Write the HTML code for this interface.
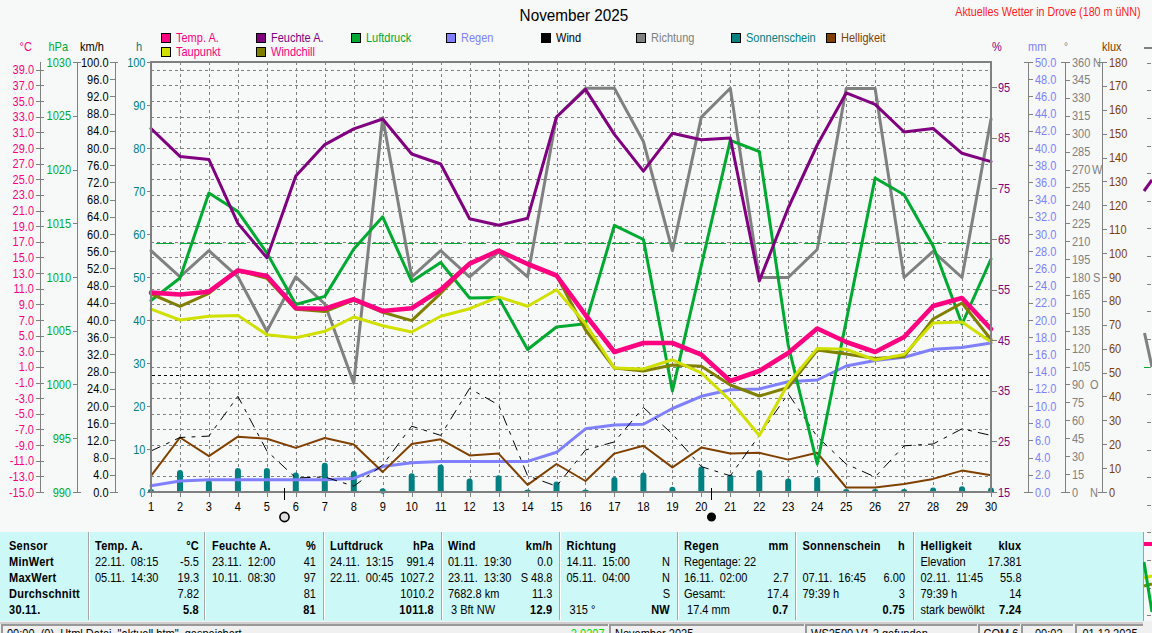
<!DOCTYPE html><html><head><meta charset="utf-8"><style>html,body{margin:0;padding:0;background:#f7f9f9;width:1152px;height:633px;overflow:hidden}svg{display:block}text{font-family:'Liberation Sans', sans-serif}</style></head><body>
<svg width="1152" height="633" viewBox="0 0 1152 633">
<rect x="0" y="0" width="1152" height="633" fill="#f7f9f9"/>
<text transform="translate(574,20.5) scale(0.9,1)" font-size="17" text-anchor="middle" fill="#000">November 2025</text>
<text transform="translate(1140.5,15.8) scale(0.88,1)" font-size="12.2" text-anchor="end" fill="#ff2020">Aktuelles Wetter in Drove (180 m üNN)</text>
<rect x="161.5" y="33.5" width="9" height="9" fill="#ff0080" stroke="#000" stroke-width="1"/>
<text transform="translate(176.0,42.0) scale(0.887,1)" font-size="12.4" fill="#ff0080">Temp. A.</text>
<rect x="161.5" y="47.5" width="9" height="9" fill="#d0e000" stroke="#000" stroke-width="1"/>
<text transform="translate(176.0,56.0) scale(0.887,1)" font-size="12.4" fill="#ff0080">Taupunkt</text>
<rect x="256.5" y="33.5" width="9" height="9" fill="#800080" stroke="#000" stroke-width="1"/>
<text transform="translate(271.0,42.0) scale(0.887,1)" font-size="12.4" fill="#800080">Feuchte A.</text>
<rect x="256.5" y="47.5" width="9" height="9" fill="#808000" stroke="#000" stroke-width="1"/>
<text transform="translate(271.0,56.0) scale(0.887,1)" font-size="12.4" fill="#ff0080">Windchill</text>
<rect x="351.5" y="33.5" width="9" height="9" fill="#00aa30" stroke="#000" stroke-width="1"/>
<text transform="translate(366.0,42.0) scale(0.887,1)" font-size="12.4" fill="#00aa30">Luftdruck</text>
<rect x="446.5" y="33.5" width="9" height="9" fill="#8080ff" stroke="#000" stroke-width="1"/>
<text transform="translate(461.0,42.0) scale(0.887,1)" font-size="12.4" fill="#8080ff">Regen</text>
<rect x="541.5" y="33.5" width="9" height="9" fill="#000000" stroke="#000" stroke-width="1"/>
<text transform="translate(556.0,42.0) scale(0.887,1)" font-size="12.4" fill="#000000">Wind</text>
<rect x="636.5" y="33.5" width="9" height="9" fill="#808080" stroke="#000" stroke-width="1"/>
<text transform="translate(651.0,42.0) scale(0.887,1)" font-size="12.4" fill="#808080">Richtung</text>
<rect x="731.5" y="33.5" width="9" height="9" fill="#008080" stroke="#000" stroke-width="1"/>
<text transform="translate(746.0,42.0) scale(0.887,1)" font-size="12.4" fill="#008080">Sonnenschein</text>
<rect x="826.5" y="33.5" width="9" height="9" fill="#804000" stroke="#000" stroke-width="1"/>
<text transform="translate(841.0,42.0) scale(0.887,1)" font-size="12.4" fill="#804000">Helligkeit</text>
<path d="M151,476.5H991M151,461.5H991M151,445.5H991M151,429.5H991M151,414.5H991M151,398.5H991M151,383.5H991M151,367.5H991M151,351.5H991M151,336.5H991M151,320.5H991M151,304.5H991M151,289.5H991M151,273.5H991M151,257.5H991M151,242.5H991M151,226.5H991M151,211.5H991M151,195.5H991M151,179.5H991M151,164.5H991M151,148.5H991M151,132.5H991M151,117.5H991M151,101.5H991M151,85.5H991M151,70.5H991" stroke="#808080" stroke-width="1" stroke-dasharray="3,3" fill="none"/>
<path d="M180.5,62V492M209.5,62V492M238.5,62V492M267.5,62V492M296.5,62V492M325.5,62V492M354.5,62V492M383.5,62V492M412.5,62V492M441.5,62V492M470.5,62V492M499.5,62V492M528.5,62V492M557.5,62V492M585.5,62V492M614.5,62V492M643.5,62V492M672.5,62V492M701.5,62V492M730.5,62V492M759.5,62V492M788.5,62V492M817.5,62V492M846.5,62V492M875.5,62V492M904.5,62V492M933.5,62V492M962.5,62V492" stroke="#808080" stroke-width="1" stroke-dasharray="3,3" fill="none"/>
<path d="M152,375.5H991" stroke="#000" stroke-width="1.2" stroke-dasharray="3,3" fill="none"/>
<path d="M152,243.5H991" stroke="#00aa30" stroke-width="1" stroke-dasharray="18,6" stroke-dashoffset="-4" fill="none"/>
<text transform="translate(151.0,511.0) scale(0.887,1)" font-size="12.4" text-anchor="middle" fill="#000">1</text>
<text transform="translate(180.0,511.0) scale(0.887,1)" font-size="12.4" text-anchor="middle" fill="#000">2</text>
<text transform="translate(208.9,511.0) scale(0.887,1)" font-size="12.4" text-anchor="middle" fill="#000">3</text>
<text transform="translate(237.9,511.0) scale(0.887,1)" font-size="12.4" text-anchor="middle" fill="#000">4</text>
<text transform="translate(266.9,511.0) scale(0.887,1)" font-size="12.4" text-anchor="middle" fill="#000">5</text>
<text transform="translate(295.8,511.0) scale(0.887,1)" font-size="12.4" text-anchor="middle" fill="#000">6</text>
<text transform="translate(324.8,511.0) scale(0.887,1)" font-size="12.4" text-anchor="middle" fill="#000">7</text>
<text transform="translate(353.8,511.0) scale(0.887,1)" font-size="12.4" text-anchor="middle" fill="#000">8</text>
<text transform="translate(382.7,511.0) scale(0.887,1)" font-size="12.4" text-anchor="middle" fill="#000">9</text>
<text transform="translate(411.7,511.0) scale(0.887,1)" font-size="12.4" text-anchor="middle" fill="#000">10</text>
<text transform="translate(440.7,511.0) scale(0.887,1)" font-size="12.4" text-anchor="middle" fill="#000">11</text>
<text transform="translate(469.6,511.0) scale(0.887,1)" font-size="12.4" text-anchor="middle" fill="#000">12</text>
<text transform="translate(498.6,511.0) scale(0.887,1)" font-size="12.4" text-anchor="middle" fill="#000">13</text>
<text transform="translate(527.6,511.0) scale(0.887,1)" font-size="12.4" text-anchor="middle" fill="#000">14</text>
<text transform="translate(556.5,511.0) scale(0.887,1)" font-size="12.4" text-anchor="middle" fill="#000">15</text>
<text transform="translate(585.5,511.0) scale(0.887,1)" font-size="12.4" text-anchor="middle" fill="#000">16</text>
<text transform="translate(614.4,511.0) scale(0.887,1)" font-size="12.4" text-anchor="middle" fill="#000">17</text>
<text transform="translate(643.4,511.0) scale(0.887,1)" font-size="12.4" text-anchor="middle" fill="#000">18</text>
<text transform="translate(672.4,511.0) scale(0.887,1)" font-size="12.4" text-anchor="middle" fill="#000">19</text>
<text transform="translate(701.3,511.0) scale(0.887,1)" font-size="12.4" text-anchor="middle" fill="#000">20</text>
<text transform="translate(730.3,511.0) scale(0.887,1)" font-size="12.4" text-anchor="middle" fill="#000">21</text>
<text transform="translate(759.3,511.0) scale(0.887,1)" font-size="12.4" text-anchor="middle" fill="#000">22</text>
<text transform="translate(788.2,511.0) scale(0.887,1)" font-size="12.4" text-anchor="middle" fill="#000">23</text>
<text transform="translate(817.2,511.0) scale(0.887,1)" font-size="12.4" text-anchor="middle" fill="#000">24</text>
<text transform="translate(846.2,511.0) scale(0.887,1)" font-size="12.4" text-anchor="middle" fill="#000">25</text>
<text transform="translate(875.1,511.0) scale(0.887,1)" font-size="12.4" text-anchor="middle" fill="#000">26</text>
<text transform="translate(904.1,511.0) scale(0.887,1)" font-size="12.4" text-anchor="middle" fill="#000">27</text>
<text transform="translate(933.1,511.0) scale(0.887,1)" font-size="12.4" text-anchor="middle" fill="#000">28</text>
<text transform="translate(962.0,511.0) scale(0.887,1)" font-size="12.4" text-anchor="middle" fill="#000">29</text>
<text transform="translate(991.0,511.0) scale(0.887,1)" font-size="12.4" text-anchor="middle" fill="#000">30</text>
<path d="M151.5,492V497M180.5,492V497M209.5,492V497M238.5,492V497M267.5,492V497M296.5,492V497M325.5,492V497M354.5,492V497M383.5,492V497M412.5,492V497M441.5,492V497M470.5,492V497M499.5,492V497M528.5,492V497M557.5,492V497M585.5,492V497M614.5,492V497M643.5,492V497M672.5,492V497M701.5,492V497M730.5,492V497M759.5,492V497M788.5,492V497M817.5,492V497M846.5,492V497M875.5,492V497M904.5,492V497M933.5,492V497M962.5,492V497M991.5,492V497" stroke="#808080" stroke-width="1" fill="none"/>
<ellipse cx="151.0" cy="491" rx="3" ry="2.0" fill="#008080"/>
<path d="M177.0,492V473.0a3,3 0 0 1 6,0V492Z" fill="#008080"/>
<path d="M205.9,492V483.0a3,3 0 0 1 6,0V492Z" fill="#008080"/>
<path d="M234.9,492V471.0a3,3 0 0 1 6,0V492Z" fill="#008080"/>
<path d="M263.9,492V471.0a3,3 0 0 1 6,0V492Z" fill="#008080"/>
<path d="M292.8,492V475.6a3,3 0 0 1 6,0V492Z" fill="#008080"/>
<path d="M321.8,492V465.7a3,3 0 0 1 6,0V492Z" fill="#008080"/>
<path d="M350.8,492V474.0a3,3 0 0 1 6,0V492Z" fill="#008080"/>
<ellipse cx="382.7" cy="491" rx="3" ry="2.7" fill="#008080"/>
<path d="M408.7,492V476.2a3,3 0 0 1 6,0V492Z" fill="#008080"/>
<path d="M437.7,492V467.6a3,3 0 0 1 6,0V492Z" fill="#008080"/>
<path d="M466.6,492V481.4a3,3 0 0 1 6,0V492Z" fill="#008080"/>
<path d="M495.6,492V478.2a3,3 0 0 1 6,0V492Z" fill="#008080"/>
<ellipse cx="527.6" cy="491" rx="3" ry="1.5" fill="#008080"/>
<path d="M553.5,492V484.5a3,3 0 0 1 6,0V492Z" fill="#008080"/>
<ellipse cx="585.5" cy="491" rx="3" ry="1.5" fill="#008080"/>
<path d="M611.4,492V480.0a3,3 0 0 1 6,0V492Z" fill="#008080"/>
<path d="M640.4,492V475.6a3,3 0 0 1 6,0V492Z" fill="#008080"/>
<path d="M669.4,492V489.7a3,3 0 0 1 6,0V492Z" fill="#008080"/>
<path d="M698.3,492V469.6a3,3 0 0 1 6,0V492Z" fill="#008080"/>
<path d="M727.3,492V477.5a3,3 0 0 1 6,0V492Z" fill="#008080"/>
<path d="M756.3,492V473.0a3,3 0 0 1 6,0V492Z" fill="#008080"/>
<path d="M785.2,492V481.4a3,3 0 0 1 6,0V492Z" fill="#008080"/>
<path d="M814.2,492V480.0a3,3 0 0 1 6,0V492Z" fill="#008080"/>
<ellipse cx="846.2" cy="491" rx="3" ry="2.0" fill="#008080"/>
<ellipse cx="875.1" cy="491" rx="3" ry="2.0" fill="#008080"/>
<ellipse cx="904.1" cy="491" rx="3" ry="2.0" fill="#008080"/>
<path d="M930.1,492V490.5a3,3 0 0 1 6,0V492Z" fill="#008080"/>
<path d="M959.0,492V489.2a3,3 0 0 1 6,0V492Z" fill="#008080"/>
<path d="M988.0,492V490.5a3,3 0 0 1 6,0V492Z" fill="#008080"/>
<polyline points="151.0,485.7 180.0,481.0 208.9,479.7 237.9,479.7 266.9,479.7 295.8,479.7 324.8,479.7 353.8,478.4 382.7,466.6 411.7,462.7 440.7,461.4 469.6,461.4 498.6,461.4 527.6,461.4 556.5,452.3 585.5,428.8 614.4,425.0 643.4,424.2 672.4,408.5 701.3,396.3 730.3,389.7 759.3,389.0 788.2,381.8 817.2,380.0 846.2,366.0 875.1,360.5 904.1,357.2 933.1,349.3 962.0,347.5 991.0,343.0" fill="none" stroke="#8080ff" stroke-width="3" stroke-linejoin="round" stroke-linecap="round" />
<polyline points="151.0,475.8 180.0,437.5 208.9,456.2 237.9,436.7 266.9,438.8 295.8,447.9 324.8,438.0 353.8,444.5 382.7,471.9 411.7,444.0 440.7,439.3 469.6,455.4 498.6,453.6 527.6,484.9 556.5,464.0 585.5,481.0 614.4,453.6 643.4,445.8 672.4,467.4 701.3,447.6 730.3,453.6 759.3,452.8 788.2,459.6 817.2,452.8 846.2,487.5 875.1,487.5 904.1,484.1 933.1,478.9 962.0,470.6 991.0,475.3" fill="none" stroke="#804000" stroke-width="2" stroke-linejoin="round" stroke-linecap="round" />
<polyline points="151.0,451.0 180.0,437.5 208.9,436.1 237.9,396.3 266.9,451.0 295.8,477.9 324.8,477.0 353.8,486.2 382.7,465.0 411.7,426.2 440.7,435.4 469.6,388.4 498.6,405.0 527.6,475.8 556.5,486.2 585.5,450.0 614.4,441.9 643.4,407.5 672.4,434.0 701.3,466.6 730.3,475.8 759.3,435.5 788.2,393.7 817.2,436.7 846.2,464.0 875.1,477.0 904.1,445.8 933.1,444.0 962.0,428.8 991.0,435.4" fill="none" stroke="#000" stroke-width="1" stroke-linejoin="round" stroke-linecap="round" stroke-dasharray="10,7,3,7"/>
<polyline points="151.0,250.7 180.0,276.8 208.9,250.7 237.9,276.8 266.9,331.3 295.8,276.8 324.8,304.0 353.8,383.2 382.7,117.8 411.7,276.8 440.7,250.7 469.6,276.8 498.6,251.9 527.6,276.8 556.5,117.0 585.5,88.2 614.4,88.2 643.4,141.5 672.4,250.7 701.3,117.1 730.3,88.2 759.3,277.5 788.2,277.5 817.2,249.5 846.2,88.5 875.1,88.5 904.1,277.5 933.1,251.4 962.0,277.5 991.0,119.0" fill="none" stroke="#808080" stroke-width="3" stroke-linejoin="round" stroke-linecap="round" />
<polyline points="151.0,300.5 180.0,278.0 208.9,193.0 237.9,211.6 266.9,253.0 295.8,304.5 324.8,296.4 353.8,249.0 382.7,216.8 411.7,281.5 440.7,262.5 469.6,298.0 498.6,297.4 527.6,349.5 556.5,327.0 585.5,323.7 614.4,225.3 643.4,239.5 672.4,391.0 701.3,265.6 730.3,140.3 759.3,151.5 788.2,345.0 817.2,464.0 846.2,321.0 875.1,178.0 904.1,194.8 933.1,246.0 962.0,324.0 991.0,259.0" fill="none" stroke="#00aa30" stroke-width="3" stroke-linejoin="round" stroke-linecap="round" />
<polyline points="151.0,128.5 180.0,156.4 208.9,159.5 237.9,223.4 266.9,257.8 295.8,175.9 324.8,144.6 353.8,128.9 382.7,119.0 411.7,154.0 440.7,164.0 469.6,218.7 498.6,225.3 527.6,218.2 556.5,117.0 585.5,89.4 614.4,134.4 643.4,171.1 672.4,133.2 701.3,139.8 730.3,138.0 759.3,281.0 788.2,208.0 817.2,145.0 846.2,92.9 875.1,104.3 904.1,132.0 933.1,128.5 962.0,153.3 991.0,161.6" fill="none" stroke="#800080" stroke-width="3" stroke-linejoin="round" stroke-linecap="round" />
<polyline points="151.0,294.0 180.0,306.4 208.9,293.3 237.9,270.4 266.9,278.4 295.8,309.2 324.8,311.6 353.8,300.0 382.7,312.3 411.7,320.6 440.7,293.3 469.6,263.7 498.6,250.7 527.6,264.0 556.5,275.5 585.5,330.0 614.4,368.0 643.4,371.0 672.4,365.0 701.3,366.3 730.3,385.0 759.3,396.0 788.2,387.5 817.2,350.0 846.2,354.0 875.1,358.5 904.1,356.4 933.1,319.0 962.0,303.0 991.0,339.5" fill="none" stroke="#808000" stroke-width="3" stroke-linejoin="round" stroke-linecap="round" />
<polyline points="151.0,309.2 180.0,320.0 208.9,316.3 237.9,315.4 266.9,334.8 295.8,337.7 324.8,331.3 353.8,317.0 382.7,325.8 411.7,332.0 440.7,316.3 469.6,308.7 498.6,296.9 527.6,306.3 556.5,289.8 585.5,323.7 614.4,368.0 643.4,368.9 672.4,359.8 701.3,372.8 730.3,400.5 759.3,435.5 788.2,383.5 817.2,348.6 846.2,349.3 875.1,360.0 904.1,354.5 933.1,323.0 962.0,322.0 991.0,342.0" fill="none" stroke="#d0e000" stroke-width="3" stroke-linejoin="round" stroke-linecap="round" />
<polyline points="151.0,292.6 180.0,294.5 208.9,291.7 237.9,270.4 266.9,276.0 295.8,308.3 324.8,308.7 353.8,299.3 382.7,311.0 411.7,308.3 440.7,289.8 469.6,263.7 498.6,250.7 527.6,264.0 556.5,275.5 585.5,315.0 614.4,352.0 643.4,343.0 672.4,343.0 701.3,354.6 730.3,381.0 759.3,371.0 788.2,353.0 817.2,328.5 846.2,342.0 875.1,352.0 904.1,337.0 933.1,306.0 962.0,298.0 991.0,329.0" fill="none" stroke="#ff0080" stroke-width="4.6" stroke-linejoin="round" stroke-linecap="round" />
<path d="M151,62H991V492H151Z" stroke="#808080" stroke-width="2" fill="none"/>
<path d="M284.5,488V500" stroke="#000" stroke-width="1"/>
<circle cx="284.5" cy="517" r="4.6" fill="#e0e0e0" stroke="#000" stroke-width="1.6"/>
<path d="M711.5,488V500" stroke="#000" stroke-width="1"/>
<circle cx="711.5" cy="517" r="3.9" fill="#000" stroke="#000" stroke-width="1.2"/>
<path d="M40.5,62V492" stroke="#808080" stroke-width="1"/>
<path d="M36,70.5H44M36,85.5H44M36,101.5H44M36,117.5H44M36,132.5H44M36,148.5H44M36,164.5H44M36,179.5H44M36,195.5H44M36,211.5H44M36,226.5H44M36,242.5H44M36,257.5H44M36,273.5H44M36,289.5H44M36,304.5H44M36,320.5H44M36,336.5H44M36,351.5H44M36,367.5H44M36,383.5H44M36,398.5H44M36,414.5H44M36,429.5H44M36,445.5H44M36,461.5H44M36,476.5H44M36,492.5H44" stroke="#808080" stroke-width="1"/>
<text transform="translate(34.0,74.3) scale(0.887,1)" font-size="12.4" text-anchor="end" fill="#ff0080">39.0</text>
<text transform="translate(34.0,90.0) scale(0.887,1)" font-size="12.4" text-anchor="end" fill="#ff0080">37.0</text>
<text transform="translate(34.0,105.6) scale(0.887,1)" font-size="12.4" text-anchor="end" fill="#ff0080">35.0</text>
<text transform="translate(34.0,121.2) scale(0.887,1)" font-size="12.4" text-anchor="end" fill="#ff0080">33.0</text>
<text transform="translate(34.0,136.9) scale(0.887,1)" font-size="12.4" text-anchor="end" fill="#ff0080">31.0</text>
<text transform="translate(34.0,152.5) scale(0.887,1)" font-size="12.4" text-anchor="end" fill="#ff0080">29.0</text>
<text transform="translate(34.0,168.1) scale(0.887,1)" font-size="12.4" text-anchor="end" fill="#ff0080">27.0</text>
<text transform="translate(34.0,183.8) scale(0.887,1)" font-size="12.4" text-anchor="end" fill="#ff0080">25.0</text>
<text transform="translate(34.0,199.4) scale(0.887,1)" font-size="12.4" text-anchor="end" fill="#ff0080">23.0</text>
<text transform="translate(34.0,215.0) scale(0.887,1)" font-size="12.4" text-anchor="end" fill="#ff0080">21.0</text>
<text transform="translate(34.0,230.7) scale(0.887,1)" font-size="12.4" text-anchor="end" fill="#ff0080">19.0</text>
<text transform="translate(34.0,246.3) scale(0.887,1)" font-size="12.4" text-anchor="end" fill="#ff0080">17.0</text>
<text transform="translate(34.0,262.0) scale(0.887,1)" font-size="12.4" text-anchor="end" fill="#ff0080">15.0</text>
<text transform="translate(34.0,277.6) scale(0.887,1)" font-size="12.4" text-anchor="end" fill="#ff0080">13.0</text>
<text transform="translate(34.0,293.2) scale(0.887,1)" font-size="12.4" text-anchor="end" fill="#ff0080">11.0</text>
<text transform="translate(34.0,308.9) scale(0.887,1)" font-size="12.4" text-anchor="end" fill="#ff0080">9.0</text>
<text transform="translate(34.0,324.5) scale(0.887,1)" font-size="12.4" text-anchor="end" fill="#ff0080">7.0</text>
<text transform="translate(34.0,340.1) scale(0.887,1)" font-size="12.4" text-anchor="end" fill="#ff0080">5.0</text>
<text transform="translate(34.0,355.8) scale(0.887,1)" font-size="12.4" text-anchor="end" fill="#ff0080">3.0</text>
<text transform="translate(34.0,371.4) scale(0.887,1)" font-size="12.4" text-anchor="end" fill="#ff0080">1.0</text>
<text transform="translate(34.0,387.0) scale(0.887,1)" font-size="12.4" text-anchor="end" fill="#ff0080">-1.0</text>
<text transform="translate(34.0,402.7) scale(0.887,1)" font-size="12.4" text-anchor="end" fill="#ff0080">-3.0</text>
<text transform="translate(34.0,418.3) scale(0.887,1)" font-size="12.4" text-anchor="end" fill="#ff0080">-5.0</text>
<text transform="translate(34.0,434.0) scale(0.887,1)" font-size="12.4" text-anchor="end" fill="#ff0080">-7.0</text>
<text transform="translate(34.0,449.6) scale(0.887,1)" font-size="12.4" text-anchor="end" fill="#ff0080">-9.0</text>
<text transform="translate(34.0,465.2) scale(0.887,1)" font-size="12.4" text-anchor="end" fill="#ff0080">-11.0</text>
<text transform="translate(34.0,480.9) scale(0.887,1)" font-size="12.4" text-anchor="end" fill="#ff0080">-13.0</text>
<text transform="translate(34.0,496.5) scale(0.887,1)" font-size="12.4" text-anchor="end" fill="#ff0080">-15.0</text>
<path d="M77.5,62V492" stroke="#808080" stroke-width="1"/>
<path d="M73,62.5H78M73,116.5H78M73,170.5H78M73,223.5H78M73,277.5H78M73,331.5H78M73,384.5H78M73,438.5H78M73,492.5H78M77,62.5H81M77,492.5H81" stroke="#808080" stroke-width="1"/>
<text transform="translate(71.0,66.5) scale(0.887,1)" font-size="12.4" text-anchor="end" fill="#00aa30">1030</text>
<text transform="translate(71.0,120.2) scale(0.887,1)" font-size="12.4" text-anchor="end" fill="#00aa30">1025</text>
<text transform="translate(71.0,174.0) scale(0.887,1)" font-size="12.4" text-anchor="end" fill="#00aa30">1020</text>
<text transform="translate(71.0,227.8) scale(0.887,1)" font-size="12.4" text-anchor="end" fill="#00aa30">1015</text>
<text transform="translate(71.0,281.5) scale(0.887,1)" font-size="12.4" text-anchor="end" fill="#00aa30">1010</text>
<text transform="translate(71.0,335.2) scale(0.887,1)" font-size="12.4" text-anchor="end" fill="#00aa30">1005</text>
<text transform="translate(71.0,389.0) scale(0.887,1)" font-size="12.4" text-anchor="end" fill="#00aa30">1000</text>
<text transform="translate(71.0,442.8) scale(0.887,1)" font-size="12.4" text-anchor="end" fill="#00aa30">995</text>
<text transform="translate(71.0,496.5) scale(0.887,1)" font-size="12.4" text-anchor="end" fill="#00aa30">990</text>
<path d="M115.5,62V492" stroke="#808080" stroke-width="1"/>
<path d="M110,62.5H115M110,79.5H115M110,96.5H115M110,114.5H115M110,131.5H115M110,148.5H115M110,165.5H115M110,182.5H115M110,200.5H115M110,217.5H115M110,234.5H115M110,251.5H115M110,268.5H115M110,286.5H115M110,303.5H115M110,320.5H115M110,337.5H115M110,354.5H115M110,372.5H115M110,389.5H115M110,406.5H115M110,423.5H115M110,440.5H115M110,458.5H115M110,475.5H115M110,492.5H115M115,62.5H118M115,492.5H118" stroke="#808080" stroke-width="1"/>
<text transform="translate(108.5,66.5) scale(0.887,1)" font-size="12.4" text-anchor="end" fill="#000">100.0</text>
<text transform="translate(108.5,83.7) scale(0.887,1)" font-size="12.4" text-anchor="end" fill="#000">96.0</text>
<text transform="translate(108.5,100.9) scale(0.887,1)" font-size="12.4" text-anchor="end" fill="#000">92.0</text>
<text transform="translate(108.5,118.1) scale(0.887,1)" font-size="12.4" text-anchor="end" fill="#000">88.0</text>
<text transform="translate(108.5,135.3) scale(0.887,1)" font-size="12.4" text-anchor="end" fill="#000">84.0</text>
<text transform="translate(108.5,152.5) scale(0.887,1)" font-size="12.4" text-anchor="end" fill="#000">80.0</text>
<text transform="translate(108.5,169.7) scale(0.887,1)" font-size="12.4" text-anchor="end" fill="#000">76.0</text>
<text transform="translate(108.5,186.9) scale(0.887,1)" font-size="12.4" text-anchor="end" fill="#000">72.0</text>
<text transform="translate(108.5,204.1) scale(0.887,1)" font-size="12.4" text-anchor="end" fill="#000">68.0</text>
<text transform="translate(108.5,221.3) scale(0.887,1)" font-size="12.4" text-anchor="end" fill="#000">64.0</text>
<text transform="translate(108.5,238.5) scale(0.887,1)" font-size="12.4" text-anchor="end" fill="#000">60.0</text>
<text transform="translate(108.5,255.7) scale(0.887,1)" font-size="12.4" text-anchor="end" fill="#000">56.0</text>
<text transform="translate(108.5,272.9) scale(0.887,1)" font-size="12.4" text-anchor="end" fill="#000">52.0</text>
<text transform="translate(108.5,290.1) scale(0.887,1)" font-size="12.4" text-anchor="end" fill="#000">48.0</text>
<text transform="translate(108.5,307.3) scale(0.887,1)" font-size="12.4" text-anchor="end" fill="#000">44.0</text>
<text transform="translate(108.5,324.5) scale(0.887,1)" font-size="12.4" text-anchor="end" fill="#000">40.0</text>
<text transform="translate(108.5,341.7) scale(0.887,1)" font-size="12.4" text-anchor="end" fill="#000">36.0</text>
<text transform="translate(108.5,358.9) scale(0.887,1)" font-size="12.4" text-anchor="end" fill="#000">32.0</text>
<text transform="translate(108.5,376.1) scale(0.887,1)" font-size="12.4" text-anchor="end" fill="#000">28.0</text>
<text transform="translate(108.5,393.3) scale(0.887,1)" font-size="12.4" text-anchor="end" fill="#000">24.0</text>
<text transform="translate(108.5,410.5) scale(0.887,1)" font-size="12.4" text-anchor="end" fill="#000">20.0</text>
<text transform="translate(108.5,427.7) scale(0.887,1)" font-size="12.4" text-anchor="end" fill="#000">16.0</text>
<text transform="translate(108.5,444.9) scale(0.887,1)" font-size="12.4" text-anchor="end" fill="#000">12.0</text>
<text transform="translate(108.5,462.1) scale(0.887,1)" font-size="12.4" text-anchor="end" fill="#000">8.0</text>
<text transform="translate(108.5,479.3) scale(0.887,1)" font-size="12.4" text-anchor="end" fill="#000">4.0</text>
<text transform="translate(108.5,496.5) scale(0.887,1)" font-size="12.4" text-anchor="end" fill="#000">0.0</text>
<path d="M147,62.5H151M147,105.5H151M147,148.5H151M147,191.5H151M147,234.5H151M147,277.5H151M147,320.5H151M147,363.5H151M147,406.5H151M147,449.5H151M147,492.5H151" stroke="#808080" stroke-width="1"/>
<text transform="translate(145.5,66.5) scale(0.887,1)" font-size="12.4" text-anchor="end" fill="#008080">100</text>
<text transform="translate(145.5,109.5) scale(0.887,1)" font-size="12.4" text-anchor="end" fill="#008080">90</text>
<text transform="translate(145.5,152.5) scale(0.887,1)" font-size="12.4" text-anchor="end" fill="#008080">80</text>
<text transform="translate(145.5,195.5) scale(0.887,1)" font-size="12.4" text-anchor="end" fill="#008080">70</text>
<text transform="translate(145.5,238.5) scale(0.887,1)" font-size="12.4" text-anchor="end" fill="#008080">60</text>
<text transform="translate(145.5,281.5) scale(0.887,1)" font-size="12.4" text-anchor="end" fill="#008080">50</text>
<text transform="translate(145.5,324.5) scale(0.887,1)" font-size="12.4" text-anchor="end" fill="#008080">40</text>
<text transform="translate(145.5,367.5) scale(0.887,1)" font-size="12.4" text-anchor="end" fill="#008080">30</text>
<text transform="translate(145.5,410.5) scale(0.887,1)" font-size="12.4" text-anchor="end" fill="#008080">20</text>
<text transform="translate(145.5,453.5) scale(0.887,1)" font-size="12.4" text-anchor="end" fill="#008080">10</text>
<text transform="translate(145.5,496.5) scale(0.887,1)" font-size="12.4" text-anchor="end" fill="#008080">0</text>
<text transform="translate(19.5,51.0) scale(0.887,1)" font-size="12.4" fill="#ff0080">°C</text>
<text transform="translate(48.5,51.0) scale(0.887,1)" font-size="12.4" fill="#00aa30">hPa</text>
<text transform="translate(80.0,51.0) scale(0.887,1)" font-size="12.4" fill="#000">km/h</text>
<text transform="translate(136.0,51.0) scale(0.887,1)" font-size="12.4" fill="#008080">h</text>
<text transform="translate(992.0,51.0) scale(0.887,1)" font-size="12.4" fill="#800080">%</text>
<text transform="translate(1028.0,51.0) scale(0.887,1)" font-size="12.4" fill="#8080ff">mm</text>
<text x="1064" y="49.5" font-size="10" fill="#808080">°</text>
<text transform="translate(1102.0,51.0) scale(0.887,1)" font-size="12.4" fill="#804000">klux</text>
<path d="M1144,48H1152" stroke="#808080" stroke-width="2"/>
<path d="M991,87.5H997M991,138.5H997M991,188.5H997M991,239.5H997M991,290.5H997M991,340.5H997M991,391.5H997M991,441.5H997M991,492.5H997" stroke="#808080" stroke-width="1"/>
<text transform="translate(998.0,91.8) scale(0.887,1)" font-size="12.4" text-anchor="start" fill="#800080">95</text>
<text transform="translate(998.0,142.4) scale(0.887,1)" font-size="12.4" text-anchor="start" fill="#800080">85</text>
<text transform="translate(998.0,193.0) scale(0.887,1)" font-size="12.4" text-anchor="start" fill="#800080">75</text>
<text transform="translate(998.0,243.6) scale(0.887,1)" font-size="12.4" text-anchor="start" fill="#800080">65</text>
<text transform="translate(998.0,294.1) scale(0.887,1)" font-size="12.4" text-anchor="start" fill="#800080">55</text>
<text transform="translate(998.0,344.7) scale(0.887,1)" font-size="12.4" text-anchor="start" fill="#800080">45</text>
<text transform="translate(998.0,395.3) scale(0.887,1)" font-size="12.4" text-anchor="start" fill="#800080">35</text>
<text transform="translate(998.0,445.9) scale(0.887,1)" font-size="12.4" text-anchor="start" fill="#800080">25</text>
<text transform="translate(998.0,496.5) scale(0.887,1)" font-size="12.4" text-anchor="start" fill="#800080">15</text>
<path d="M1028.5,62V492" stroke="#808080" stroke-width="1"/>
<path d="M1028,62.5H1033M1028,79.5H1033M1028,96.5H1033M1028,114.5H1033M1028,131.5H1033M1028,148.5H1033M1028,165.5H1033M1028,182.5H1033M1028,200.5H1033M1028,217.5H1033M1028,234.5H1033M1028,251.5H1033M1028,268.5H1033M1028,286.5H1033M1028,303.5H1033M1028,320.5H1033M1028,337.5H1033M1028,354.5H1033M1028,372.5H1033M1028,389.5H1033M1028,406.5H1033M1028,423.5H1033M1028,440.5H1033M1028,458.5H1033M1028,475.5H1033M1028,492.5H1033M1024,62.5H1029M1024,492.5H1029" stroke="#808080" stroke-width="1"/>
<text transform="translate(1035.0,66.5) scale(0.887,1)" font-size="12.4" text-anchor="start" fill="#8080ff">50.0</text>
<text transform="translate(1035.0,83.7) scale(0.887,1)" font-size="12.4" text-anchor="start" fill="#8080ff">48.0</text>
<text transform="translate(1035.0,100.9) scale(0.887,1)" font-size="12.4" text-anchor="start" fill="#8080ff">46.0</text>
<text transform="translate(1035.0,118.1) scale(0.887,1)" font-size="12.4" text-anchor="start" fill="#8080ff">44.0</text>
<text transform="translate(1035.0,135.3) scale(0.887,1)" font-size="12.4" text-anchor="start" fill="#8080ff">42.0</text>
<text transform="translate(1035.0,152.5) scale(0.887,1)" font-size="12.4" text-anchor="start" fill="#8080ff">40.0</text>
<text transform="translate(1035.0,169.7) scale(0.887,1)" font-size="12.4" text-anchor="start" fill="#8080ff">38.0</text>
<text transform="translate(1035.0,186.9) scale(0.887,1)" font-size="12.4" text-anchor="start" fill="#8080ff">36.0</text>
<text transform="translate(1035.0,204.1) scale(0.887,1)" font-size="12.4" text-anchor="start" fill="#8080ff">34.0</text>
<text transform="translate(1035.0,221.3) scale(0.887,1)" font-size="12.4" text-anchor="start" fill="#8080ff">32.0</text>
<text transform="translate(1035.0,238.5) scale(0.887,1)" font-size="12.4" text-anchor="start" fill="#8080ff">30.0</text>
<text transform="translate(1035.0,255.7) scale(0.887,1)" font-size="12.4" text-anchor="start" fill="#8080ff">28.0</text>
<text transform="translate(1035.0,272.9) scale(0.887,1)" font-size="12.4" text-anchor="start" fill="#8080ff">26.0</text>
<text transform="translate(1035.0,290.1) scale(0.887,1)" font-size="12.4" text-anchor="start" fill="#8080ff">24.0</text>
<text transform="translate(1035.0,307.3) scale(0.887,1)" font-size="12.4" text-anchor="start" fill="#8080ff">22.0</text>
<text transform="translate(1035.0,324.5) scale(0.887,1)" font-size="12.4" text-anchor="start" fill="#8080ff">20.0</text>
<text transform="translate(1035.0,341.7) scale(0.887,1)" font-size="12.4" text-anchor="start" fill="#8080ff">18.0</text>
<text transform="translate(1035.0,358.9) scale(0.887,1)" font-size="12.4" text-anchor="start" fill="#8080ff">16.0</text>
<text transform="translate(1035.0,376.1) scale(0.887,1)" font-size="12.4" text-anchor="start" fill="#8080ff">14.0</text>
<text transform="translate(1035.0,393.3) scale(0.887,1)" font-size="12.4" text-anchor="start" fill="#8080ff">12.0</text>
<text transform="translate(1035.0,410.5) scale(0.887,1)" font-size="12.4" text-anchor="start" fill="#8080ff">10.0</text>
<text transform="translate(1035.0,427.7) scale(0.887,1)" font-size="12.4" text-anchor="start" fill="#8080ff">8.0</text>
<text transform="translate(1035.0,444.9) scale(0.887,1)" font-size="12.4" text-anchor="start" fill="#8080ff">6.0</text>
<text transform="translate(1035.0,462.1) scale(0.887,1)" font-size="12.4" text-anchor="start" fill="#8080ff">4.0</text>
<text transform="translate(1035.0,479.3) scale(0.887,1)" font-size="12.4" text-anchor="start" fill="#8080ff">2.0</text>
<text transform="translate(1035.0,496.5) scale(0.887,1)" font-size="12.4" text-anchor="start" fill="#8080ff">0.0</text>
<path d="M1065.5,62V492" stroke="#808080" stroke-width="1"/>
<path d="M1065,62.5H1070M1065,80.5H1070M1065,98.5H1070M1065,116.5H1070M1065,134.5H1070M1065,152.5H1070M1065,170.5H1070M1065,187.5H1070M1065,205.5H1070M1065,223.5H1070M1065,241.5H1070M1065,259.5H1070M1065,277.5H1070M1065,295.5H1070M1065,313.5H1070M1065,331.5H1070M1065,349.5H1070M1065,367.5H1070M1065,384.5H1070M1065,402.5H1070M1065,420.5H1070M1065,438.5H1070M1065,456.5H1070M1065,474.5H1070M1065,492.5H1070M1061,62.5H1066M1061,492.5H1066" stroke="#808080" stroke-width="1"/>
<text transform="translate(1072.0,66.5) scale(0.887,1)" font-size="12.4" text-anchor="start" fill="#808080">360</text>
<text transform="translate(1072.0,84.4) scale(0.887,1)" font-size="12.4" text-anchor="start" fill="#808080">345</text>
<text transform="translate(1072.0,102.3) scale(0.887,1)" font-size="12.4" text-anchor="start" fill="#808080">330</text>
<text transform="translate(1072.0,120.2) scale(0.887,1)" font-size="12.4" text-anchor="start" fill="#808080">315</text>
<text transform="translate(1072.0,138.2) scale(0.887,1)" font-size="12.4" text-anchor="start" fill="#808080">300</text>
<text transform="translate(1072.0,156.1) scale(0.887,1)" font-size="12.4" text-anchor="start" fill="#808080">285</text>
<text transform="translate(1072.0,174.0) scale(0.887,1)" font-size="12.4" text-anchor="start" fill="#808080">270</text>
<text transform="translate(1072.0,191.9) scale(0.887,1)" font-size="12.4" text-anchor="start" fill="#808080">255</text>
<text transform="translate(1072.0,209.8) scale(0.887,1)" font-size="12.4" text-anchor="start" fill="#808080">240</text>
<text transform="translate(1072.0,227.8) scale(0.887,1)" font-size="12.4" text-anchor="start" fill="#808080">225</text>
<text transform="translate(1072.0,245.7) scale(0.887,1)" font-size="12.4" text-anchor="start" fill="#808080">210</text>
<text transform="translate(1072.0,263.6) scale(0.887,1)" font-size="12.4" text-anchor="start" fill="#808080">195</text>
<text transform="translate(1072.0,281.5) scale(0.887,1)" font-size="12.4" text-anchor="start" fill="#808080">180</text>
<text transform="translate(1072.0,299.4) scale(0.887,1)" font-size="12.4" text-anchor="start" fill="#808080">165</text>
<text transform="translate(1072.0,317.3) scale(0.887,1)" font-size="12.4" text-anchor="start" fill="#808080">150</text>
<text transform="translate(1072.0,335.2) scale(0.887,1)" font-size="12.4" text-anchor="start" fill="#808080">135</text>
<text transform="translate(1072.0,353.2) scale(0.887,1)" font-size="12.4" text-anchor="start" fill="#808080">120</text>
<text transform="translate(1072.0,371.1) scale(0.887,1)" font-size="12.4" text-anchor="start" fill="#808080">105</text>
<text transform="translate(1072.0,389.0) scale(0.887,1)" font-size="12.4" text-anchor="start" fill="#808080">90</text>
<text transform="translate(1072.0,406.9) scale(0.887,1)" font-size="12.4" text-anchor="start" fill="#808080">75</text>
<text transform="translate(1072.0,424.8) scale(0.887,1)" font-size="12.4" text-anchor="start" fill="#808080">60</text>
<text transform="translate(1072.0,442.8) scale(0.887,1)" font-size="12.4" text-anchor="start" fill="#808080">45</text>
<text transform="translate(1072.0,460.7) scale(0.887,1)" font-size="12.4" text-anchor="start" fill="#808080">30</text>
<text transform="translate(1072.0,478.6) scale(0.887,1)" font-size="12.4" text-anchor="start" fill="#808080">15</text>
<text transform="translate(1072.0,496.5) scale(0.887,1)" font-size="12.4" text-anchor="start" fill="#808080">0</text>
<text transform="translate(1093.0,66.5) scale(0.887,1)" font-size="12.4" fill="#808080">N</text>
<text transform="translate(1092.0,174.0) scale(0.887,1)" font-size="12.4" fill="#808080">W</text>
<text transform="translate(1093.0,281.5) scale(0.887,1)" font-size="12.4" fill="#808080">S</text>
<text transform="translate(1090.0,389.0) scale(0.887,1)" font-size="12.4" fill="#808080">O</text>
<text transform="translate(1090.0,496.5) scale(0.887,1)" font-size="12.4" fill="#808080">N</text>
<path d="M1102.5,62V492" stroke="#808080" stroke-width="1"/>
<path d="M1102,62.5H1107M1102,86.5H1107M1102,110.5H1107M1102,134.5H1107M1102,158.5H1107M1102,181.5H1107M1102,205.5H1107M1102,229.5H1107M1102,253.5H1107M1102,277.5H1107M1102,301.5H1107M1102,325.5H1107M1102,349.5H1107M1102,373.5H1107M1102,396.5H1107M1102,420.5H1107M1102,444.5H1107M1102,468.5H1107M1102,492.5H1107M1098,62.5H1103M1098,492.5H1103" stroke="#808080" stroke-width="1"/>
<text transform="translate(1109.0,66.5) scale(0.887,1)" font-size="12.4" text-anchor="start" fill="#804000">180</text>
<text transform="translate(1109.0,90.4) scale(0.887,1)" font-size="12.4" text-anchor="start" fill="#804000">170</text>
<text transform="translate(1109.0,114.3) scale(0.887,1)" font-size="12.4" text-anchor="start" fill="#804000">160</text>
<text transform="translate(1109.0,138.2) scale(0.887,1)" font-size="12.4" text-anchor="start" fill="#804000">150</text>
<text transform="translate(1109.0,162.1) scale(0.887,1)" font-size="12.4" text-anchor="start" fill="#804000">140</text>
<text transform="translate(1109.0,185.9) scale(0.887,1)" font-size="12.4" text-anchor="start" fill="#804000">130</text>
<text transform="translate(1109.0,209.8) scale(0.887,1)" font-size="12.4" text-anchor="start" fill="#804000">120</text>
<text transform="translate(1109.0,233.7) scale(0.887,1)" font-size="12.4" text-anchor="start" fill="#804000">110</text>
<text transform="translate(1109.0,257.6) scale(0.887,1)" font-size="12.4" text-anchor="start" fill="#804000">100</text>
<text transform="translate(1109.0,281.5) scale(0.887,1)" font-size="12.4" text-anchor="start" fill="#804000">90</text>
<text transform="translate(1109.0,305.4) scale(0.887,1)" font-size="12.4" text-anchor="start" fill="#804000">80</text>
<text transform="translate(1109.0,329.3) scale(0.887,1)" font-size="12.4" text-anchor="start" fill="#804000">70</text>
<text transform="translate(1109.0,353.2) scale(0.887,1)" font-size="12.4" text-anchor="start" fill="#804000">60</text>
<text transform="translate(1109.0,377.1) scale(0.887,1)" font-size="12.4" text-anchor="start" fill="#804000">50</text>
<text transform="translate(1109.0,400.9) scale(0.887,1)" font-size="12.4" text-anchor="start" fill="#804000">40</text>
<text transform="translate(1109.0,424.8) scale(0.887,1)" font-size="12.4" text-anchor="start" fill="#804000">30</text>
<text transform="translate(1109.0,448.7) scale(0.887,1)" font-size="12.4" text-anchor="start" fill="#804000">20</text>
<text transform="translate(1109.0,472.6) scale(0.887,1)" font-size="12.4" text-anchor="start" fill="#804000">10</text>
<text transform="translate(1109.0,496.5) scale(0.887,1)" font-size="12.4" text-anchor="start" fill="#804000">0</text>
<path d="M1147,63.5H1151M1147,90.5H1151M1147,118.5H1151M1147,146.5H1151M1147,173.5H1151M1147,201.5H1151M1147,228.5H1151M1147,256.5H1151M1147,284.5H1151M1147,311.5H1151M1147,339.5H1151M1147,367.5H1151M1147,394.5H1151M1147,422.5H1151M1147,450.5H1151M1147,477.5H1151M1147,505.5H1151M1147,532.5H1151M1147,560.5H1151M1147,588.5H1151M1147,615.5H1151" stroke="#808080" stroke-width="1"/>
<path d="M1144,191L1152,180" stroke="#800080" stroke-width="3"/>
<path d="M1144.5,333L1152,367" stroke="#808080" stroke-width="3"/>
<path d="M1144,367.5H1149" stroke="#00aa30" stroke-width="1"/>
<path d="M1143.5,532V633" stroke="#a0a0a0" stroke-width="1"/>
<path d="M1144,544H1152" stroke="#ff0080" stroke-width="4"/>
<path d="M1144,578L1152,576" stroke="#d0e000" stroke-width="3"/>
<path d="M1144,586L1152,584" stroke="#808000" stroke-width="3"/>
<path d="M1144,562L1152,612" stroke="#00aa30" stroke-width="3"/>
<rect x="0" y="532" width="1143" height="89" fill="#ccf8f8"/>
<path d="M88.5,532V620" stroke="#a8a8a8" stroke-width="1"/><path d="M89.5,532V620" stroke="#ffffff" stroke-width="1"/>
<path d="M204.5,532V620" stroke="#a8a8a8" stroke-width="1"/><path d="M205.5,532V620" stroke="#ffffff" stroke-width="1"/>
<path d="M323.5,532V620" stroke="#a8a8a8" stroke-width="1"/><path d="M324.5,532V620" stroke="#ffffff" stroke-width="1"/>
<path d="M441.5,532V620" stroke="#a8a8a8" stroke-width="1"/><path d="M442.5,532V620" stroke="#ffffff" stroke-width="1"/>
<path d="M559.5,532V620" stroke="#a8a8a8" stroke-width="1"/><path d="M560.5,532V620" stroke="#ffffff" stroke-width="1"/>
<path d="M677.5,532V620" stroke="#a8a8a8" stroke-width="1"/><path d="M678.5,532V620" stroke="#ffffff" stroke-width="1"/>
<path d="M795.5,532V620" stroke="#a8a8a8" stroke-width="1"/><path d="M796.5,532V620" stroke="#ffffff" stroke-width="1"/>
<path d="M913.5,532V620" stroke="#a8a8a8" stroke-width="1"/><path d="M914.5,532V620" stroke="#ffffff" stroke-width="1"/>
<text transform="translate(9.0,550.0) scale(0.887,1)" font-size="12.4" text-anchor="start" fill="#000" font-weight="bold" letter-spacing="0.3">Sensor</text>
<text transform="translate(9.0,566.0) scale(0.887,1)" font-size="12.4" text-anchor="start" fill="#000" font-weight="bold" letter-spacing="0.3">MinWert</text>
<text transform="translate(9.0,582.0) scale(0.887,1)" font-size="12.4" text-anchor="start" fill="#000" font-weight="bold" letter-spacing="0.3">MaxWert</text>
<text transform="translate(9.0,598.0) scale(0.887,1)" font-size="12.4" text-anchor="start" fill="#000" font-weight="bold" letter-spacing="0.3">Durchschnitt</text>
<text transform="translate(9.0,614.0) scale(0.887,1)" font-size="12.4" text-anchor="start" fill="#000" font-weight="bold" letter-spacing="0.3">30.11.</text>
<text transform="translate(95.0,550.0) scale(0.887,1)" font-size="12.4" text-anchor="start" fill="#000" font-weight="bold" letter-spacing="0.3">Temp. A.</text>
<text transform="translate(199.0,550.0) scale(0.887,1)" font-size="12.4" text-anchor="end" fill="#000" font-weight="bold" letter-spacing="0.3">°C</text>
<text transform="translate(95.0,566.0) scale(0.887,1)" font-size="12.4" text-anchor="start" fill="#000">22.11.  08:15</text>
<text transform="translate(199.0,566.0) scale(0.887,1)" font-size="12.4" text-anchor="end" fill="#000">-5.5</text>
<text transform="translate(95.0,582.0) scale(0.887,1)" font-size="12.4" text-anchor="start" fill="#000">05.11.  14:30</text>
<text transform="translate(199.0,582.0) scale(0.887,1)" font-size="12.4" text-anchor="end" fill="#000">19.3</text>
<text transform="translate(199.0,598.0) scale(0.887,1)" font-size="12.4" text-anchor="end" fill="#000">7.82</text>
<text transform="translate(199.0,614.0) scale(0.887,1)" font-size="12.4" text-anchor="end" fill="#000" font-weight="bold" letter-spacing="0.3">5.8</text>
<text transform="translate(212.0,550.0) scale(0.887,1)" font-size="12.4" text-anchor="start" fill="#000" font-weight="bold" letter-spacing="0.3">Feuchte A.</text>
<text transform="translate(316.0,550.0) scale(0.887,1)" font-size="12.4" text-anchor="end" fill="#000" font-weight="bold" letter-spacing="0.3">%</text>
<text transform="translate(212.0,566.0) scale(0.887,1)" font-size="12.4" text-anchor="start" fill="#000">23.11.  12:00</text>
<text transform="translate(316.0,566.0) scale(0.887,1)" font-size="12.4" text-anchor="end" fill="#000">41</text>
<text transform="translate(212.0,582.0) scale(0.887,1)" font-size="12.4" text-anchor="start" fill="#000">10.11.  08:30</text>
<text transform="translate(316.0,582.0) scale(0.887,1)" font-size="12.4" text-anchor="end" fill="#000">97</text>
<text transform="translate(316.0,598.0) scale(0.887,1)" font-size="12.4" text-anchor="end" fill="#000">81</text>
<text transform="translate(316.0,614.0) scale(0.887,1)" font-size="12.4" text-anchor="end" fill="#000" font-weight="bold" letter-spacing="0.3">81</text>
<text transform="translate(330.0,550.0) scale(0.887,1)" font-size="12.4" text-anchor="start" fill="#000" font-weight="bold" letter-spacing="0.3">Luftdruck</text>
<text transform="translate(434.0,550.0) scale(0.887,1)" font-size="12.4" text-anchor="end" fill="#000" font-weight="bold" letter-spacing="0.3">hPa</text>
<text transform="translate(330.0,566.0) scale(0.887,1)" font-size="12.4" text-anchor="start" fill="#000">24.11.  13:15</text>
<text transform="translate(434.0,566.0) scale(0.887,1)" font-size="12.4" text-anchor="end" fill="#000">991.4</text>
<text transform="translate(330.0,582.0) scale(0.887,1)" font-size="12.4" text-anchor="start" fill="#000">22.11.  00:45</text>
<text transform="translate(434.0,582.0) scale(0.887,1)" font-size="12.4" text-anchor="end" fill="#000">1027.2</text>
<text transform="translate(434.0,598.0) scale(0.887,1)" font-size="12.4" text-anchor="end" fill="#000">1010.2</text>
<text transform="translate(434.0,614.0) scale(0.887,1)" font-size="12.4" text-anchor="end" fill="#000" font-weight="bold" letter-spacing="0.3">1011.8</text>
<text transform="translate(448.0,550.0) scale(0.887,1)" font-size="12.4" text-anchor="start" fill="#000" font-weight="bold" letter-spacing="0.3">Wind</text>
<text transform="translate(552.5,550.0) scale(0.887,1)" font-size="12.4" text-anchor="end" fill="#000" font-weight="bold" letter-spacing="0.3">km/h</text>
<text transform="translate(448.0,566.0) scale(0.887,1)" font-size="12.4" text-anchor="start" fill="#000">01.11.  19:30</text>
<text transform="translate(552.5,566.0) scale(0.887,1)" font-size="12.4" text-anchor="end" fill="#000">0.0</text>
<text transform="translate(448.0,582.0) scale(0.887,1)" font-size="12.4" text-anchor="start" fill="#000">23.11.  13:30</text>
<text transform="translate(552.5,582.0) scale(0.887,1)" font-size="12.4" text-anchor="end" fill="#000">S 48.8</text>
<text transform="translate(448.0,598.0) scale(0.887,1)" font-size="12.4" text-anchor="start" fill="#000">7682.8 km</text>
<text transform="translate(552.5,598.0) scale(0.887,1)" font-size="12.4" text-anchor="end" fill="#000">11.3</text>
<text transform="translate(448.0,614.0) scale(0.887,1)" font-size="12.4" text-anchor="start" fill="#000"> 3 Bft NW</text>
<text transform="translate(552.5,614.0) scale(0.887,1)" font-size="12.4" text-anchor="end" fill="#000" font-weight="bold" letter-spacing="0.3">12.9</text>
<text transform="translate(566.5,550.0) scale(0.887,1)" font-size="12.4" text-anchor="start" fill="#000" font-weight="bold" letter-spacing="0.3">Richtung</text>
<text transform="translate(566.5,566.0) scale(0.887,1)" font-size="12.4" text-anchor="start" fill="#000">14.11.  15:00</text>
<text transform="translate(670.0,566.0) scale(0.887,1)" font-size="12.4" text-anchor="end" fill="#000">N</text>
<text transform="translate(566.5,582.0) scale(0.887,1)" font-size="12.4" text-anchor="start" fill="#000">05.11.  04:00</text>
<text transform="translate(670.0,582.0) scale(0.887,1)" font-size="12.4" text-anchor="end" fill="#000">N</text>
<text transform="translate(670.0,598.0) scale(0.887,1)" font-size="12.4" text-anchor="end" fill="#000">S</text>
<text transform="translate(566.5,614.0) scale(0.887,1)" font-size="12.4" text-anchor="start" fill="#000"> 315 °</text>
<text transform="translate(670.0,614.0) scale(0.887,1)" font-size="12.4" text-anchor="end" fill="#000" font-weight="bold" letter-spacing="0.3">NW</text>
<text transform="translate(684.0,550.0) scale(0.887,1)" font-size="12.4" text-anchor="start" fill="#000" font-weight="bold" letter-spacing="0.3">Regen</text>
<text transform="translate(788.5,550.0) scale(0.887,1)" font-size="12.4" text-anchor="end" fill="#000" font-weight="bold" letter-spacing="0.3">mm</text>
<text transform="translate(684.0,566.0) scale(0.887,1)" font-size="12.4" text-anchor="start" fill="#000">Regentage: 22</text>
<text transform="translate(684.0,582.0) scale(0.887,1)" font-size="12.4" text-anchor="start" fill="#000">16.11.  02:00</text>
<text transform="translate(788.5,582.0) scale(0.887,1)" font-size="12.4" text-anchor="end" fill="#000">2.7</text>
<text transform="translate(684.0,598.0) scale(0.887,1)" font-size="12.4" text-anchor="start" fill="#000">Gesamt:</text>
<text transform="translate(788.5,598.0) scale(0.887,1)" font-size="12.4" text-anchor="end" fill="#000">17.4</text>
<text transform="translate(684.0,614.0) scale(0.887,1)" font-size="12.4" text-anchor="start" fill="#000"> 17.4 mm</text>
<text transform="translate(788.5,614.0) scale(0.887,1)" font-size="12.4" text-anchor="end" fill="#000" font-weight="bold" letter-spacing="0.3">0.7</text>
<text transform="translate(802.5,550.0) scale(0.887,1)" font-size="12.4" text-anchor="start" fill="#000" font-weight="bold" letter-spacing="0.3">Sonnenschein</text>
<text transform="translate(905.0,550.0) scale(0.887,1)" font-size="12.4" text-anchor="end" fill="#000" font-weight="bold" letter-spacing="0.3">h</text>
<text transform="translate(802.5,582.0) scale(0.887,1)" font-size="12.4" text-anchor="start" fill="#000">07.11.  16:45</text>
<text transform="translate(905.0,582.0) scale(0.887,1)" font-size="12.4" text-anchor="end" fill="#000">6.00</text>
<text transform="translate(802.5,598.0) scale(0.887,1)" font-size="12.4" text-anchor="start" fill="#000">79:39 h</text>
<text transform="translate(905.0,598.0) scale(0.887,1)" font-size="12.4" text-anchor="end" fill="#000">3</text>
<text transform="translate(905.0,614.0) scale(0.887,1)" font-size="12.4" text-anchor="end" fill="#000" font-weight="bold" letter-spacing="0.3">0.75</text>
<text transform="translate(920.5,550.0) scale(0.887,1)" font-size="12.4" text-anchor="start" fill="#000" font-weight="bold" letter-spacing="0.3">Helligkeit</text>
<text transform="translate(1021.5,550.0) scale(0.887,1)" font-size="12.4" text-anchor="end" fill="#000" font-weight="bold" letter-spacing="0.3">klux</text>
<text transform="translate(920.5,566.0) scale(0.887,1)" font-size="12.4" text-anchor="start" fill="#000">Elevation</text>
<text transform="translate(1021.5,566.0) scale(0.887,1)" font-size="12.4" text-anchor="end" fill="#000">17.381</text>
<text transform="translate(920.5,582.0) scale(0.887,1)" font-size="12.4" text-anchor="start" fill="#000">02.11.  11:45</text>
<text transform="translate(1021.5,582.0) scale(0.887,1)" font-size="12.4" text-anchor="end" fill="#000">55.8</text>
<text transform="translate(920.5,598.0) scale(0.887,1)" font-size="12.4" text-anchor="start" fill="#000">79:39 h</text>
<text transform="translate(1021.5,598.0) scale(0.887,1)" font-size="12.4" text-anchor="end" fill="#000">14</text>
<text transform="translate(920.5,614.0) scale(0.887,1)" font-size="12.4" text-anchor="start" fill="#000">stark bewölkt</text>
<text transform="translate(1021.5,614.0) scale(0.887,1)" font-size="12.4" text-anchor="end" fill="#000" font-weight="bold" letter-spacing="0.3">7.24</text>
<rect x="0" y="621" width="1152" height="12" fill="#f0f0f0"/>
<path d="M0,623H1143" stroke="#b0b0b0" stroke-width="1"/>
<path d="M2.0,634V625H608.0" stroke="#999999" stroke-width="2" fill="none"/>
<path d="M610.0,634V625H804.0" stroke="#999999" stroke-width="2" fill="none"/>
<path d="M806.0,634V625H977.0" stroke="#999999" stroke-width="2" fill="none"/>
<path d="M979.0,634V625H1020.0" stroke="#999999" stroke-width="2" fill="none"/>
<path d="M1022.0,634V625H1073.0" stroke="#999999" stroke-width="2" fill="none"/>
<path d="M1076.0,634V625H1143.0" stroke="#999999" stroke-width="2" fill="none"/>
<text transform="translate(7.0,638.0) scale(0.887,1)" font-size="12.4" text-anchor="start" fill="#000">00:00  (0)  Html Datei  &quot;aktuell.htm&quot;  gespeichert</text>
<text transform="translate(604.5,638.0) scale(0.887,1)" font-size="12.4" text-anchor="end" fill="#00e000">2.0207</text>
<text transform="translate(615.0,638.0) scale(0.887,1)" font-size="12.4" text-anchor="start" fill="#000">November 2025</text>
<text transform="translate(811.0,638.0) scale(0.887,1)" font-size="12.4" text-anchor="start" fill="#000">WS2500 V1.2 gefunden</text>
<text transform="translate(983.5,638.0) scale(0.887,1)" font-size="12.4" text-anchor="start" fill="#000">COM 6</text>
<text transform="translate(1035.0,638.0) scale(0.887,1)" font-size="12.4" text-anchor="start" fill="#000">00:02</text>
<text transform="translate(1082.5,638.0) scale(0.887,1)" font-size="12.4" text-anchor="start" fill="#000">01.12.2025</text>
</svg>
</body></html>
